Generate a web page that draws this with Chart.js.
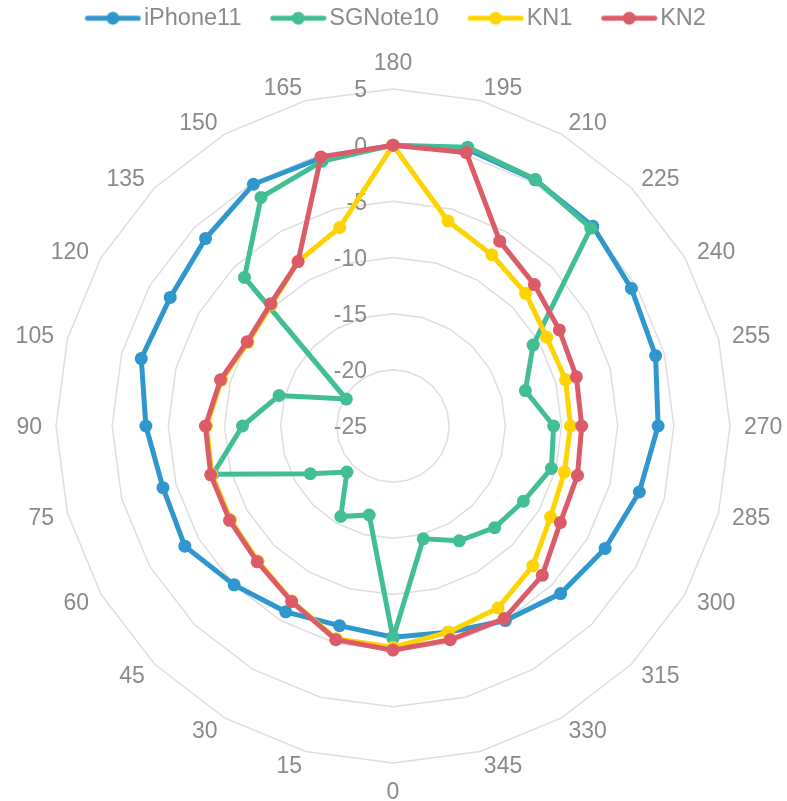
<!DOCTYPE html>
<html>
<head>
<meta charset="utf-8">
<script src="https://cdn.jsdelivr.net/npm/chart.js@4.4.1/dist/chart.umd.min.js"></script>
<style>
  html, body { margin: 0; padding: 0; background: #ffffff; }
  canvas { display: block; }
</style>
</head>
<body>
<canvas id="chart" width="787" height="801"></canvas>
<script>
// angle categories, clockwise from the top
const angles = ['180', '195', '210', '225', '240', '255', '270', '285', '300', '315', '330', '345',
                '0', '15', '30', '45', '60', '75', '90', '105', '120', '135', '150', '165'];

const iPhone11 = [0, 0.5, 0.3, 0.15, -0.5, -0.8, -1.4, -2.3, -3.2, -3.9, -5.0, -6.0,
                  -6.2, -6.6, -5.9, -5.0, -3.6, -3.8, -3.0, -1.8, -2.1, -1.4, -0.15, -0.3];
const sgNote10 = [0, 0.7, 0.35, -0.1, -10.6, -12.8, -10.7, -10.4, -11.6, -12.2, -13.2, -14.6,
                  -6.1, -16.8, -15.7, -19.2, -16.5, -8.4, -11.6, -14.5, -20.2, -6.3, -1.5, -0.6];
const kn1 = [0, -6.1, -7.4, -8.3, -9.2, -9.1, -9.2, -9.2, -8.8, -7.4, -6.3, -6.0,
             -5.3, -5.4, -7.0, -8.0, -8.3, -8.3, -8.4, -9.2, -10.1, -9.7, -8.1, -6.7];
const kn2 = [0, 0.2, -6.0, -7.2, -7.9, -8.1, -8.2, -8.0, -7.8, -6.2, -5.2, -5.3,
             -5.05, -5.3, -6.95, -7.9, -8.2, -8.2, -8.3, -9.1, -10.0, -9.6, -8.1, -0.2];

const seriesNames = ['iPhone11', 'SGNote10', 'KN1', 'KN2'];
const seriesValues = [iPhone11, sgNote10, kn1, kn2];
const seriesColors = ['#2f97cd', '#41be96', '#fdd400', '#dc5b69'];

const axisMin = -25;
const axisMax = 5;
const axisStep = 5;

const textColor = '#8a8a8a';
const fontFamily = '"Liberation Sans", Arial, sans-serif';
Chart.defaults.font.family = fontFamily;

// line + dot marker for the legend; left part of the canvas stays empty
function legendMarker(color)
{
    const c = document.createElement('canvas');
    c.width = 88;
    c.height = 16;
    const g = c.getContext('2d');
    g.strokeStyle = color;
    g.fillStyle = color;
    g.lineWidth = 5;
    g.lineCap = 'round';
    g.beginPath();
    g.moveTo(34, 8);
    g.lineTo(85, 8);
    g.stroke();
    g.beginPath();
    g.arc(59.5, 8, 6.5, 0, Math.PI * 2);
    g.fill();
    return c;
}

function lineDataset(label, values, color, order)
{
    return {
        label: label,
        data: values,
        borderColor: color,
        backgroundColor: color,
        pointBackgroundColor: color,
        pointBorderColor: color,
        borderWidth: 5,
        pointRadius: 6.5,
        pointBorderWidth: 0,
        fill: false,
        order: order
    };
}

// value labels left of the vertical axis, as the spreadsheet draws them
const tickLabels = {
    id: 'tickLabels',
    beforeDatasetsDraw(chart) {
        const r = chart.scales.r;
        const ctx = chart.ctx;
        ctx.save();
        ctx.font = '23px ' + fontFamily;
        ctx.fillStyle = textColor;
        ctx.textAlign = 'right';
        ctx.textBaseline = 'middle';
        r.ticks.forEach(t => {
            ctx.fillText(String(t.value), r.xCenter - 26, r.yCenter - r.getDistanceFromCenterForValue(t.value) + 2);
        });
        ctx.restore();
    }
};

// category labels: side labels are vertically centred on their spoke
const angleLabels = {
    id: 'angleLabels',
    beforeDatasetsDraw(chart) {
        const r = chart.scales.r;
        const ctx = chart.ctx;
        ctx.save();
        ctx.font = '23px ' + fontFamily;
        ctx.fillStyle = textColor;
        ctx.textBaseline = 'middle';
        angles.forEach((label, i) => {
            const deg = Math.round(r.getIndexAngle(i) * 180 / Math.PI) % 360;
            const pos = r.getPointPosition(i, r.drawingArea + 14);
            let y = pos.y + 2;
            if (deg === 0) { ctx.textAlign = 'center'; y -= 13; }
            else if (deg === 180) { ctx.textAlign = 'center'; y += 14; }
            else ctx.textAlign = deg < 180 ? 'left' : 'right';
            ctx.fillText(label, pos.x, y);
        });
        ctx.restore();
    }
};

const legendSpacing = {
    id: 'legendSpacing',
    beforeLayout(chart) {
        const legend = chart.legend;
        if (!legend || legend._patched) return;
        const fit = legend.fit;
        legend.fit = function () { fit.call(this); this.height = 89; };
        legend._patched = true;
    },
    afterLayout(chart) {
        chart.legend.right -= 17.5;
    }
};

const datasets = seriesNames.map((name, i) =>
    lineDataset(name, seriesValues[i], seriesColors[i], seriesNames.length - i));

const defaultLabels = Chart.defaults.plugins.legend.labels.generateLabels;

new Chart(document.getElementById('chart'), {
    type: 'radar',
    data: { labels: angles, datasets: datasets },
    options: {
        responsive: false,
        animation: false,
        layout: { padding: { left: 56, right: 57, top: 0, bottom: 38 } },
        plugins: {
            tooltip: { enabled: false },
            legend: {
                position: 'top',
                labels: {
                    usePointStyle: true,
                    pointStyleWidth: 69.5,
                    padding: 6.5,
                    color: textColor,
                    font: { size: 23.5 },
                    sort: (a, b) => a.datasetIndex - b.datasetIndex,
                    generateLabels: chart => defaultLabels(chart).map(item => {
                        item.pointStyle = legendMarker(seriesColors[item.datasetIndex]);
                        return item;
                    })
                }
            }
        },
        scales: {
            r: {
                min: axisMin,
                max: axisMax,
                ticks: { stepSize: axisStep, display: false },
                angleLines: { display: false },
                grid: { color: '#dedede', lineWidth: 1.5, circular: false },
                pointLabels: { display: false }
            }
        }
    },
    plugins: [tickLabels, angleLabels, legendSpacing]
});
</script>
</body>
</html>
